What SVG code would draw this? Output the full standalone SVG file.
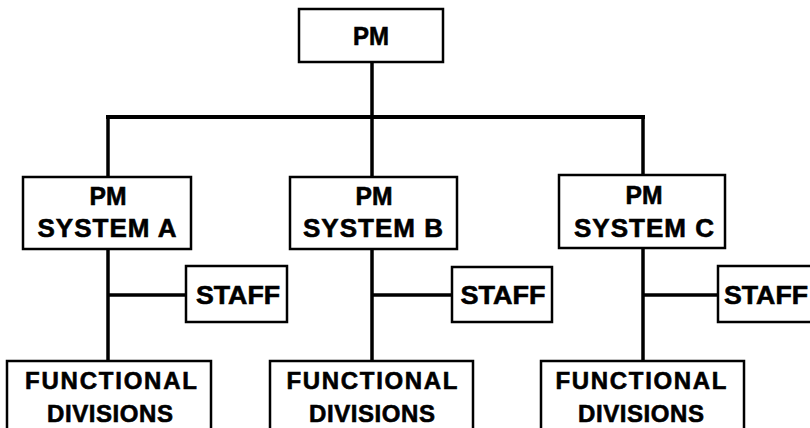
<svg xmlns="http://www.w3.org/2000/svg" width="810" height="428" viewBox="0 0 810 428">
<style>
.box{fill:#fff;stroke:#000;stroke-width:2.5}
.t{font-family:"Liberation Sans",Arial,sans-serif;font-weight:bold;fill:#000;stroke:#000;stroke-width:0.6;text-anchor:middle}
.big{font-size:26px}
.fn{font-size:24px}
.ln{stroke:#000;stroke-width:3.5;fill:none;stroke-linecap:square}
</style>
<rect width="810" height="428" fill="#fff"/>
<g id="connectors">
<line class="ln" x1="372" y1="62" x2="372" y2="177"/>
<line class="ln" x1="108" y1="117" x2="643" y2="117" style="stroke-width:4"/>
<line class="ln" x1="108" y1="117" x2="108" y2="177"/>
<line class="ln" x1="643" y1="117" x2="643" y2="175"/>
<line class="ln" x1="108" y1="249" x2="108" y2="361"/>
<line class="ln" x1="372" y1="249" x2="372" y2="361"/>
<line class="ln" x1="643" y1="248" x2="643" y2="361"/>
<line class="ln" x1="108" y1="295" x2="186" y2="295" style="stroke-linecap:butt"/>
<line class="ln" x1="372" y1="295" x2="452" y2="295" style="stroke-linecap:butt"/>
<line class="ln" x1="643" y1="295" x2="718" y2="295" style="stroke-linecap:butt"/>
</g>
<g id="pm">
<rect class="box" x="299" y="9" width="144" height="53"/>
<text class="t big" x="371" y="45" textLength="36" lengthAdjust="spacingAndGlyphs">PM</text>
</g>
<g id="pm-system-a">
<rect class="box" x="23" y="177" width="168" height="72"/>
<text class="t big" x="108" y="205" textLength="37" lengthAdjust="spacingAndGlyphs">PM</text>
<text class="t big" x="107" y="237" textLength="139" lengthAdjust="spacing">SYSTEM  A</text>
</g>
<g id="pm-system-b">
<rect class="box" x="290" y="177" width="167" height="72"/>
<text class="t big" x="374" y="205" textLength="37" lengthAdjust="spacingAndGlyphs">PM</text>
<text class="t big" x="373" y="237" textLength="140" lengthAdjust="spacing">SYSTEM  B</text>
</g>
<g id="pm-system-c">
<rect class="box" x="559" y="175" width="166" height="73"/>
<text class="t big" x="644" y="204" textLength="37" lengthAdjust="spacingAndGlyphs">PM</text>
<text class="t big" x="644" y="237" textLength="140" lengthAdjust="spacing">SYSTEM  C</text>
</g>
<g id="staff-a">
<rect class="box" x="186" y="266" width="101" height="56"/>
<text class="t big" x="238" y="304" textLength="84" lengthAdjust="spacingAndGlyphs">STAFF</text>
</g>
<g id="staff-b">
<rect class="box" x="452" y="267" width="100" height="55"/>
<text class="t big" x="503" y="304" textLength="85" lengthAdjust="spacingAndGlyphs">STAFF</text>
</g>
<g id="staff-c">
<rect class="box" x="718" y="266" width="100" height="56"/>
<text class="t big" x="766" y="304" textLength="84" lengthAdjust="spacingAndGlyphs">STAFF</text>
</g>
<g id="functional-a">
<rect class="box" x="7" y="361" width="204" height="80"/>
<text class="t fn" x="111" y="389" textLength="172" lengthAdjust="spacing">FUNCTIONAL</text>
<text class="t fn" x="110" y="422" textLength="126" lengthAdjust="spacing">DIVISIONS</text>
</g>
<g id="functional-b">
<rect class="box" x="270" y="361" width="203" height="80"/>
<text class="t fn" x="372" y="389" textLength="171" lengthAdjust="spacing">FUNCTIONAL</text>
<text class="t fn" x="372" y="422" textLength="126" lengthAdjust="spacing">DIVISIONS</text>
</g>
<g id="functional-c">
<rect class="box" x="541" y="361" width="203" height="80"/>
<text class="t fn" x="641" y="389" textLength="171" lengthAdjust="spacing">FUNCTIONAL</text>
<text class="t fn" x="641" y="422" textLength="126" lengthAdjust="spacing">DIVISIONS</text>
</g>
</svg>
